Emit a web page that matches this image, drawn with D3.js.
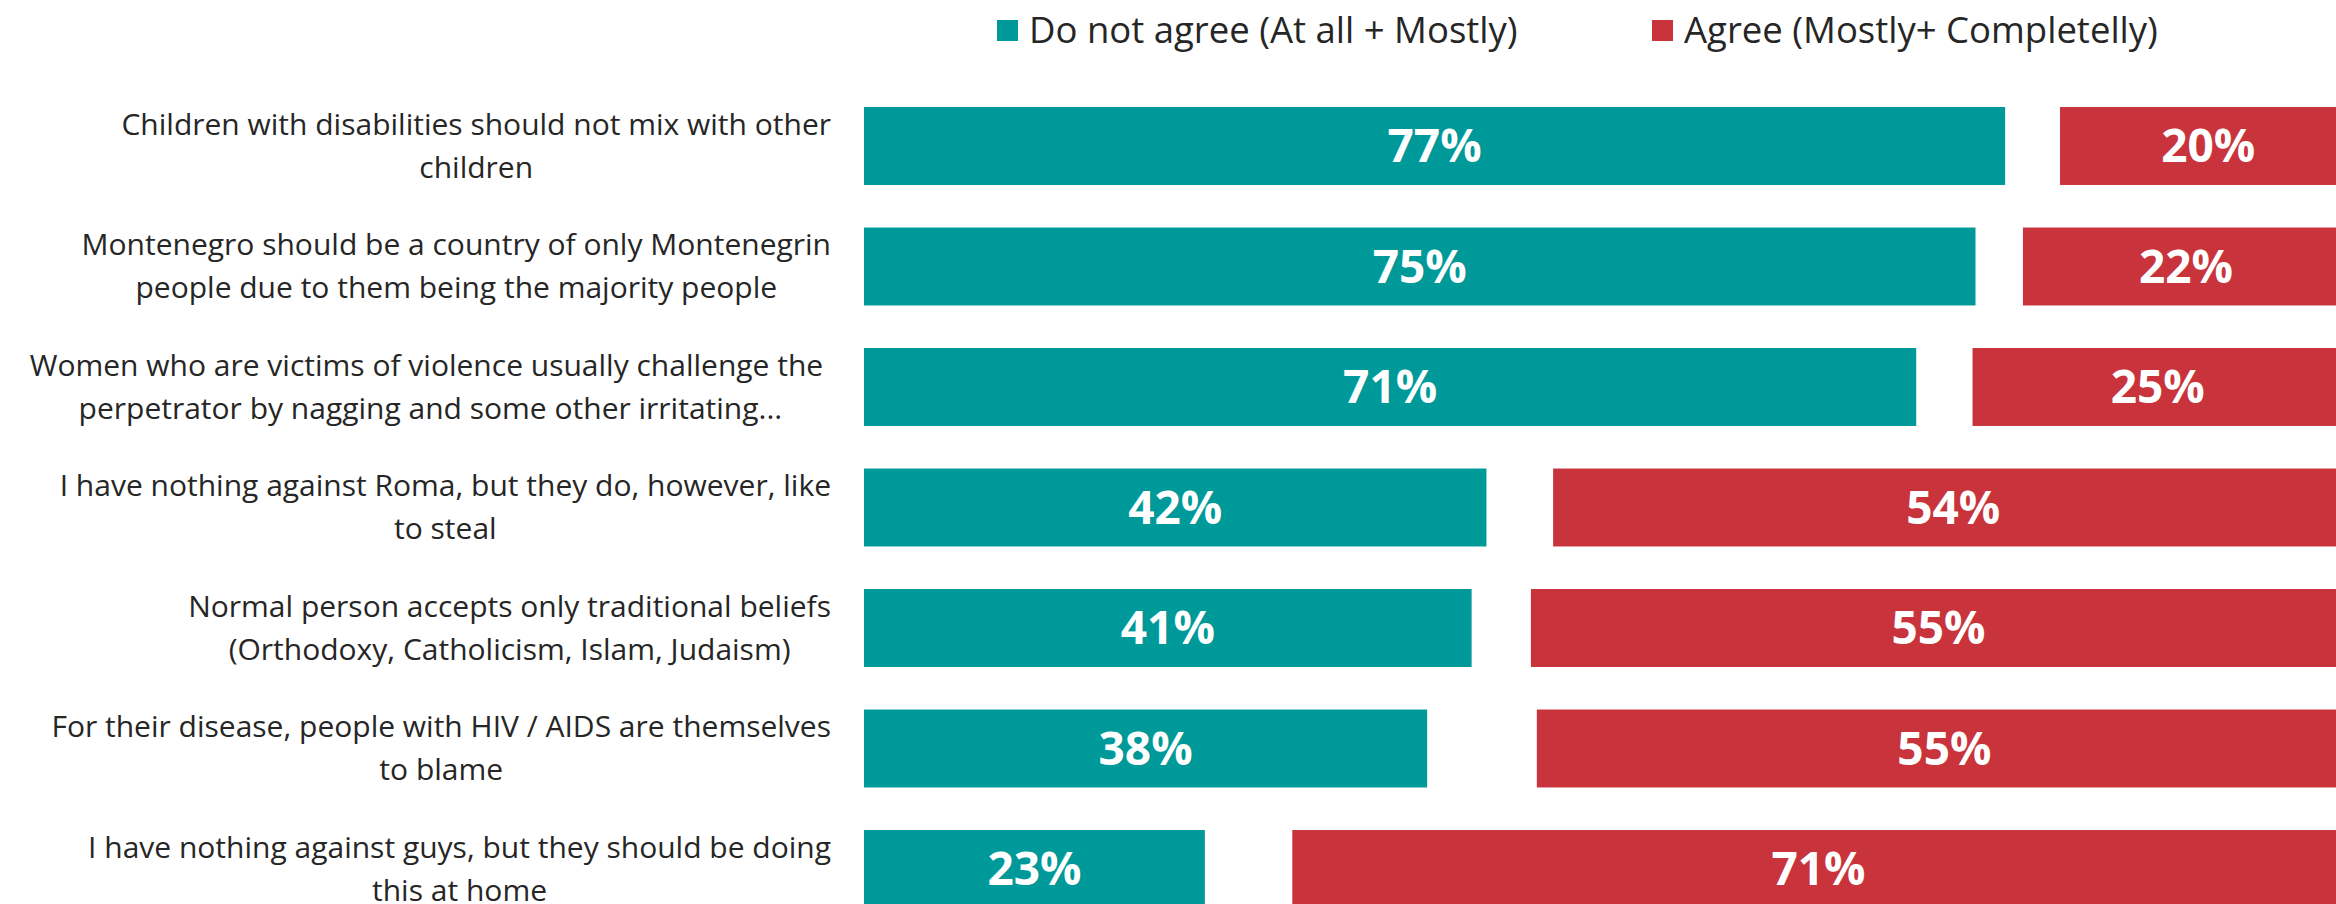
<!DOCTYPE html>
<html>
<head>
<meta charset="utf-8">
<script src="https://cdn.jsdelivr.net/npm/d3@7"></script>
<style>
  html, body { margin: 0; padding: 0; background: #fff; overflow: hidden; }
  svg { display: block; font-family: 'Open Sans', 'Noto Sans', sans-serif; }
</style>
</head>
<body>
<div id="chart"></div>
<script>
// Statements (each line = one wrapped line of the label)
const categories = [
  ['Children with disabilities should not mix with other', 'children'],
  ['Montenegro should be a country of only Montenegrin', 'people due to them being the majority people'],
  ['Women who are victims of violence usually challenge the ', 'perpetrator by nagging and some other irritating...'],
  ['I have nothing against Roma, but they do, however, like', 'to steal'],
  ['Normal person accepts only traditional beliefs', '(Orthodoxy, Catholicism, Islam, Judaism)'],
  ['For their disease, people with HIV / AIDS are themselves', 'to blame'],
  ['I have nothing against guys, but they should be doing', 'this at home'],
];

// Percentages
const disagree = [77, 75, 71, 42, 41, 38, 23];
const dontKnow = [3.7, 3.2, 3.8, 4.5, 4.0, 7.4, 5.9]; // unlabelled gap between the two bars
const agree = [20, 22, 25, 54, 55, 55, 71];

const seriesNames = ['Do not agree (At all + Mostly)', 'Agree (Mostly+ Completelly)'];
const colors = ['#009999', '#c9343c'];

const width = 2336;
const height = 904;

const svg = d3
  .select('#chart')
  .append('svg')
  .attr('width', width)
  .attr('height', height);

const rows = categories.map((lines, i) => ({
  id: i,
  lines,
  disagree: disagree[i],
  dontKnow: dontKnow[i],
  agree: agree[i],
}));

const x = d3.scaleLinear().domain([0, 100]).range([864, 2346]);

const y = d3
  .scaleBand()
  .domain(rows.map((d) => d.id))
  .range([85.75, 929.25])
  .paddingInner(0.353)
  .paddingOuter(0.1765);

// Disagree / agree bars
const bars = svg.append('g');

bars
  .selectAll('.bar-disagree')
  .data(rows)
  .join('rect')
  .attr('class', 'bar-disagree')
  .attr('x', x(0))
  .attr('y', (d) => y(d.id))
  .attr('width', (d) => x(d.disagree) - x(0))
  .attr('height', y.bandwidth())
  .attr('fill', colors[0]);

bars
  .selectAll('.bar-agree')
  .data(rows)
  .join('rect')
  .attr('class', 'bar-agree')
  .attr('x', (d) => x(d.disagree + d.dontKnow))
  .attr('y', (d) => y(d.id))
  .attr('width', (d) => x(d.agree) - x(0))
  .attr('height', y.bandwidth())
  .attr('fill', colors[1]);

// Value labels
const labels = svg
  .append('g')
  .attr('font-weight', 700)
  .attr('font-size', '46px')
  .attr('fill', '#fff')
  .attr('text-anchor', 'middle');

labels
  .selectAll('.lbl-disagree')
  .data(rows)
  .join('text')
  .attr('class', 'lbl-disagree')
  .attr('x', (d) => x(d.disagree / 2))
  .attr('y', (d) => y(d.id) + y.bandwidth() / 2)
  .attr('dy', '0.35em')
  .text((d) => d.disagree + '%');

labels
  .selectAll('.lbl-agree')
  .data(rows)
  .join('text')
  .attr('class', 'lbl-agree')
  .attr('x', (d) => x(d.disagree + d.dontKnow + d.agree / 2))
  .attr('y', (d) => y(d.id) + y.bandwidth() / 2)
  .attr('dy', '0.35em')
  .text((d) => d.agree + '%');

// Category labels: block right-aligned to the bars, lines centred in the block
const labelRight = 831;
const lineGap = 43;

const cats = svg
  .append('g')
  .attr('font-size', '30px')
  .attr('fill', '#262626')
  .selectAll('text')
  .data(rows)
  .join('text')
  .attr('text-anchor', 'middle')
  .attr('y', (d) => y(d.id) + y.bandwidth() / 2);

cats
  .selectAll('tspan')
  .data((d) => d.lines.map((t, j) => ({ t, j, n: d.lines.length })))
  .join('tspan')
  .style('white-space', 'pre')
  .attr('dy', (d) => (d.j === 0 ? (-(d.n - 1) / 2) * lineGap + 10 : lineGap))
  .text((d) => d.t);

cats.each(function () {
  const spans = d3.select(this).selectAll('tspan');
  let maxW = 0;
  spans.each(function () {
    maxW = Math.max(maxW, this.getComputedTextLength());
  });
  spans.attr('x', labelRight - maxW / 2);
});

// Legend
const legendX = [997, 1652];
const legend = svg
  .append('g')
  .selectAll('g')
  .data(seriesNames)
  .join('g')
  .attr('transform', (d, i) => `translate(${legendX[i]},20)`);

legend
  .append('rect')
  .attr('width', 21)
  .attr('height', 21)
  .attr('fill', (d, i) => colors[i]);

legend
  .append('text')
  .attr('x', 32)
  .attr('y', 23)
  .attr('font-size', '36.5px')
  .attr('fill', '#262626')
  .text((d) => d);
</script>
</body>
</html>
